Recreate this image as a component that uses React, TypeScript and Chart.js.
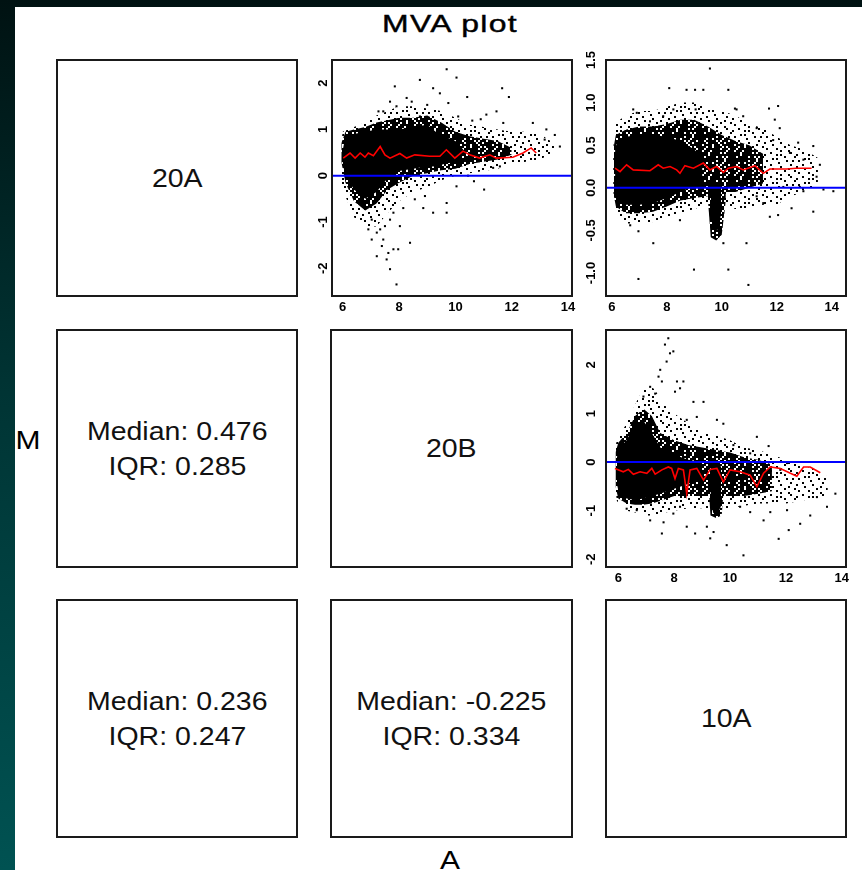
import React, { useEffect, useRef } from 'react';
import { Chart, registerables } from 'chart.js';
Chart.register(...registerables);

// ---------- text panels ----------
const sampleNames = ['20A', '20B', '10A'];
const medians = ['0.476', '0.236', '-0.225'];
const iqrs = ['0.285', '0.247', '0.334'];

// ---------- tick labels ----------
const xTicks = [6, 8, 10, 12, 14];
const yTicks12 = [-2, -1, 0, 1, 2];
const yLabels12 = ['-2', '-1', '0', '1', '2'];
const yTicks13 = [-1, -0.5, 0, 0.5, 1, 1.5];
const yLabels13 = ['-1.0', '-0.5', '0.0', '0.5', '1.0', '1.5'];
const yTicks23 = [-2, -1, 0, 1, 2];
const yLabels23 = ['-2', '-1', '0', '1', '2'];

// ---------- panel 20A vs 20B ----------
const lowess12A = [6.02, 6.26, 6.44, 6.62, 6.79, 6.91, 7.09, 7.33, 7.5, 7.68, 8.03, 8.27, 8.56, 9.09, 9.45, 9.68, 9.98, 10.27, 10.51, 10.86, 11.22, 11.45, 12.04, 12.4, 12.69, 12.87];
const lowess12M = [0.38, 0.49, 0.38, 0.49, 0.4, 0.49, 0.43, 0.63, 0.45, 0.38, 0.48, 0.38, 0.45, 0.42, 0.42, 0.56, 0.38, 0.53, 0.45, 0.38, 0.45, 0.38, 0.4, 0.49, 0.6, 0.49];
const sparseA12 = [5.9, 6.0, 6.4, 6.8, 7.2, 7.6, 8.0, 8.5, 9.0, 9.5, 10.0, 10.5, 11.0, 11.5, 12.0, 12.5, 13.0, 13.5];
const sparseHi12 = [0.5, 0.95, 1.05, 1.15, 1.3, 1.4, 1.5, 1.5, 1.45, 1.4, 1.25, 1.1, 1.05, 1.0, 0.95, 0.95, 0.9, 0.7];
const sparseLo12 = [0.2, -0.3, -0.9, -1.1, -1.1, -0.8, -0.55, -0.35, -0.25, -0.1, 0.0, 0.05, 0.1, 0.15, 0.25, 0.3, 0.35, 0.5];
const denseA12 = [5.95, 6.1, 6.4, 6.8, 7.2, 7.6, 8.0, 8.5, 9.0, 9.5, 10.0, 10.5, 11.0, 11.5, 12.0];
const denseHi12 = [0.7, 0.95, 1.0, 1.05, 1.15, 1.2, 1.25, 1.25, 1.3, 1.15, 0.95, 0.85, 0.8, 0.75, 0.6];
const denseLo12 = [0.3, -0.15, -0.55, -0.75, -0.6, -0.3, -0.15, 0.0, 0.05, 0.12, 0.15, 0.25, 0.3, 0.35, 0.45];
const coreA12 = [6.0, 6.1, 6.4, 6.8, 7.2, 7.6, 8.0, 8.5, 9.0, 9.3, 9.6, 10.0, 10.3];
const coreHi12 = [0.55, 0.85, 0.9, 0.95, 1.0, 1.0, 1.0, 1.05, 1.1, 0.95, 0.85, 0.75, 0.55];
const coreLo12 = [0.25, 0.0, -0.3, -0.5, -0.35, -0.05, 0.1, 0.15, 0.2, 0.2, 0.25, 0.3, 0.45];
const outliers12 = [
  [9.69, 2.3], [10.04, 2.12], [7.85, 1.93], [8.74, 2.07], [9.21, 1.89], [11.66, 1.89], [11.9, 1.7], [10.42, 1.7],
  [9.45, 1.78], [9.75, 1.57], [8.45, 1.6], [8.27, 1.68], [7.91, 1.5], [7.44, 1.39], [12.75, 1.14], [13.23, 1.0],
  [13.53, 0.88], [13.71, 0.63], [13.17, 0.78], [11.46, 1.39], [11.1, 1.32], [10.6, 1.19], [10.9, 1.22], [11.7, 1.14],
  [10.1, 1.28], [9.0, 1.53], [8.74, 1.28], [7.68, 1.6], [7.27, 1.39],
  [7.91, -2.35], [7.68, -2.02], [7.62, -1.67], [7.8, -1.59], [7.97, -1.59], [7.44, -1.38], [7.21, -1.23], [6.91, -1.16],
  [7.33, -1.16], [7.5, -1.09], [7.03, -0.95], [8.03, -1.09], [8.39, -1.45], [7.68, -0.95], [7.8, -0.8], [8.15, -0.7],
  [8.86, -0.7], [9.21, -0.8], [9.69, -0.8], [9.69, -0.59], [8.92, -0.44], [8.56, -0.51], [11.02, -0.3], [10.66, -0.12],
  [10.45, 0.0], [11.34, 0.17], [11.58, 0.2], [10.04, -0.23], [7.21, -1.74], [7.56, -1.81], [7.39, -1.52], [7.03, -1.38],
];

// ---------- panel 20A vs 10A ----------
const lowess13A = [6.12, 6.3, 6.54, 6.78, 7.39, 7.69, 7.87, 8.12, 8.36, 8.48, 8.66, 8.97, 9.33, 9.57, 9.81, 10.06, 10.24, 10.54, 10.78, 11.21, 11.51, 11.75, 12.36, 12.72, 13.27];
const lowess13M = [0.23, 0.19, 0.27, 0.21, 0.2, 0.27, 0.23, 0.25, 0.21, 0.17, 0.26, 0.23, 0.29, 0.21, 0.25, 0.18, 0.23, 0.25, 0.21, 0.26, 0.17, 0.22, 0.22, 0.23, 0.23];
const sparseA13 = [6.05, 6.1, 6.5, 7.0, 7.5, 8.0, 8.5, 9.0, 9.5, 10.0, 10.5, 11.0, 11.5, 12.0, 12.5, 13.0, 13.5];
const sparseHi13 = [0.4, 0.75, 0.85, 0.9, 0.9, 0.95, 1.0, 1.0, 0.95, 0.9, 0.85, 0.75, 0.7, 0.6, 0.5, 0.45, 0.35];
const sparseLo13 = [0.0, -0.35, -0.42, -0.42, -0.4, -0.35, -0.3, -0.25, -0.2, -0.2, -0.25, -0.25, -0.2, -0.2, -0.1, -0.05, 0.05];
const denseA13 = [6.08, 6.15, 6.5, 7.0, 7.5, 8.0, 8.5, 9.0, 9.5, 10.0, 10.5, 11.0, 11.5];
const denseHi13 = [0.5, 0.62, 0.68, 0.72, 0.72, 0.75, 0.8, 0.8, 0.72, 0.62, 0.55, 0.5, 0.4];
const denseLo13 = [-0.1, -0.22, -0.3, -0.3, -0.28, -0.22, -0.15, -0.12, -0.1, -0.05, -0.05, 0.0, 0.05];
const coreA13 = [6.12, 6.2, 6.5, 7.0, 7.5, 8.0, 8.5, 9.0, 9.3];
const coreHi13 = [0.45, 0.55, 0.6, 0.62, 0.62, 0.6, 0.55, 0.45, 0.35];
const coreLo13 = [-0.05, -0.15, -0.2, -0.2, -0.18, -0.12, -0.05, 0.02, 0.05];
const spikeCoreA13 = [9.6, 9.7, 9.85, 9.98];
const spikeCoreHi13 = [0.0, 0.05, 0.05, 0.0];
const spikeCoreLo13 = [-0.3, -0.48, -0.5, -0.3];
const spikeA13 = [9.5, 9.6, 9.8, 10.0, 10.15];
const spikeHi13 = [0.05, 0.1, 0.1, 0.08, 0.02];
const spikeLo13 = [-0.15, -0.58, -0.62, -0.55, -0.15];
const outliers13 = [
  [9.57, 1.4], [8.09, 1.17], [8.72, 1.15], [9.03, 1.15], [9.33, 1.15], [10.24, 1.15], [9.05, 0.92], [10.48, 0.93],
  [11.72, 0.93], [12.05, 0.96], [11.93, 0.8], [12.11, 0.7], [12.78, 0.53], [13.33, 0.49], [13.57, 0.27], [13.45, 0.13],
  [13.7, -0.02], [14.06, -0.04], [13.33, -0.28], [12.54, -0.24], [12.05, -0.32], [11.75, -0.34], [6.97, -0.51],
  [7.51, -0.65], [8.99, -0.96], [10.24, -0.96], [10.97, -1.14], [6.97, -1.07], [10.06, -0.65], [10.9, -0.65],
  [6.67, -0.44], [8.48, -0.38], [6.78, 0.92], [6.91, 0.88], [7.39, 0.78], [8.24, 0.92], [7.87, 0.84], [10.54, 0.92],
  [10.78, 0.84], [11.27, 0.7], [11.87, 0.56], [12.48, 0.41], [12.97, 0.33], [11.27, -0.1], [11.51, -0.18],
  [12.24, 0.01], [12.84, 0.01], [12.97, -0.04],
];

// ---------- panel 20B vs 10A ----------
const lowess23A = [5.88, 6.18, 6.36, 6.54, 6.78, 7.02, 7.2, 7.32, 7.56, 7.79, 7.91, 8.03, 8.15, 8.33, 8.45, 8.57, 8.81, 9.05, 9.29, 9.53, 9.76, 10.0, 10.36, 10.72, 10.96, 11.2, 11.44, 11.8, 12.16, 12.39, 12.63, 12.87, 13.23];
const lowess23M = [-0.13, -0.2, -0.15, -0.25, -0.2, -0.23, -0.13, -0.25, -0.16, -0.1, -0.13, -0.34, -0.13, -0.16, -0.65, -0.16, -0.13, -0.37, -0.15, -0.13, -0.41, -0.16, -0.2, -0.27, -0.51, -0.23, -0.1, -0.13, -0.23, -0.29, -0.1, -0.1, -0.22];
const sparseA23 = [5.85, 5.95, 6.3, 6.7, 7.0, 7.3, 7.6, 8.0, 8.5, 9.0, 9.5, 10.0, 10.5, 11.0, 11.5, 12.0, 12.5, 13.0, 13.5];
const sparseHi23 = [0.2, 0.45, 0.8, 1.3, 1.6, 1.5, 1.2, 1.0, 0.8, 0.6, 0.55, 0.45, 0.3, 0.25, 0.15, 0.05, -0.05, -0.15, -0.3];
const sparseLo23 = [-0.3, -0.8, -1.0, -1.05, -1.1, -1.1, -1.05, -1.0, -0.95, -0.95, -1.0, -0.95, -0.9, -0.85, -0.85, -0.85, -0.8, -0.75, -0.7];
const denseA23 = [5.9, 6.0, 6.3, 6.6, 6.9, 7.2, 7.5, 8.0, 8.5, 9.0, 9.5, 10.0, 10.5, 11.0, 11.5];
const denseHi23 = [0.2, 0.4, 0.6, 0.95, 1.1, 0.95, 0.6, 0.45, 0.35, 0.3, 0.25, 0.2, 0.1, 0.05, -0.05];
const denseLo23 = [-0.5, -0.75, -0.85, -0.88, -0.88, -0.85, -0.8, -0.7, -0.7, -0.7, -0.7, -0.7, -0.7, -0.65, -0.6];
const coreA23 = [5.95, 6.05, 6.3, 6.6, 6.9, 7.2, 7.5, 8.0, 8.5, 9.0];
const coreHi23 = [0.1, 0.3, 0.45, 0.8, 0.85, 0.6, 0.3, 0.15, 0.05, 0.0];
const coreLo23 = [-0.45, -0.7, -0.75, -0.78, -0.75, -0.7, -0.65, -0.55, -0.45, -0.3];
const spikeCoreA23 = [9.3, 9.4, 9.55, 9.68];
const spikeCoreHi23 = [-0.05, 0.0, 0.0, -0.1];
const spikeCoreLo23 = [-0.8, -1.05, -1.08, -0.9];
const spikeA23 = [9.22, 9.3, 9.5, 9.7, 9.78];
const spikeHi23 = [-0.05, 0.0, 0.02, -0.02, -0.1];
const spikeLo23 = [-0.4, -1.1, -1.15, -1.1, -0.5];
const outliers23 = [
  [7.79, 2.55], [7.67, 2.42], [7.85, 2.24], [7.97, 2.28], [7.73, 2.07], [7.5, 1.9], [7.44, 1.76], [7.56, 1.66],
  [8.1, 1.66], [8.33, 1.66], [8.03, 1.45], [8.21, 1.52], [8.69, 1.24], [9.05, 1.24], [9.53, 0.87], [9.76, 0.79],
  [8.81, 0.93], [8.45, 0.87], [10.96, 0.52], [11.38, 0.33], [10.72, 0.18], [10.12, 0.35], [7.14, 1.55], [6.9, 1.35],
  [7.32, 1.41], [12.04, -0.02], [11.8, -0.16], [13.11, -0.72], [13.47, -0.92], [13.77, -0.65], [12.87, -1.1],
  [12.51, -1.27], [12.1, -1.4], [11.74, -1.58], [10.48, -1.92], [9.88, -1.71], [9.41, -1.44], [9.17, -1.33],
  [9.29, -1.57], [8.75, -1.47], [8.45, -1.33], [7.97, -1.06], [7.56, -1.47], [7.14, -1.2], [7.62, -1.24],
  [6.3, -0.96], [6.66, -0.99], [8.21, -0.92], [11.2, -1.2], [11.44, -1.03], [12.04, -0.99], [10.72, -1.03], [10.36, -0.92],
];

// ---------- styles (dot textures) ----------
const DENSE_TILE = [
  '###.#####.##.###', '#.####.###.#####', '###.##.####.#.##', '##.#######.###.#',
  '#.###.##.####.##', '####.#####.#.###', '.###.###.#######', '##.#####.##.#.##',
  '####.#.#####.###', '#.######.###.#.#', '###.##.####.####', '##.#####.#.###.#',
];
const SPARSE_TILE = [
  '#.......#.......', '....#.......#...', '..........#....#', '.#....#.........',
  '........#...#...', '...#.........#..', '#.....#.#.......', '..........#....#',
  '....#.#.........', '.#.........#..#.', '.......#........', '...#.........#..',
];

function makePattern(rows: string[], cell: number): CanvasPattern | string {
  const c = document.createElement('canvas');
  c.width = rows[0].length * cell;
  c.height = rows.length * cell;
  const g = c.getContext('2d');
  if (!g) return '#000';
  g.fillStyle = '#000';
  rows.forEach((r, j) => {
    for (let i = 0; i < r.length; i++) if (r[i] === '#') g.fillRect(i * cell, j * cell, cell, cell);
  });
  return g.createPattern(c, 'repeat') || '#000';
}

const FONT = '"Liberation Sans", Arial, Helvetica, sans-serif';

type Layer = { A: number[]; lo: number[]; hi: number[]; kind: 'core' | 'dense' | 'sparse' };
type PanelDef = {
  box: [number, number, number, number];
  xMin: number; xMax: number; yMin: number; yMax: number;
  yTicks: number[]; yLabels: string[]; yLabelOffset: number;
  lowA: number[]; lowM: number[]; outliers: number[][];
  layers: Layer[];
};

const panels: PanelDef[] = [
  {
    box: [332, 60, 572, 296], xMin: 5.62, xMax: 14.14, yMin: -2.6, yMax: 2.5,
    yTicks: yTicks12, yLabels: yLabels12, yLabelOffset: 9,
    lowA: lowess12A, lowM: lowess12M, outliers: outliers12,
    layers: [
      { A: coreA12, lo: coreLo12, hi: coreHi12, kind: 'core' },
      { A: denseA12, lo: denseLo12, hi: denseHi12, kind: 'dense' },
      { A: sparseA12, lo: sparseLo12, hi: sparseHi12, kind: 'sparse' },
    ],
  },
  {
    box: [606, 60, 846, 296], xMin: 5.79, xMax: 14.52, yMin: -1.27, yMax: 1.5,
    yTicks: yTicks13, yLabels: yLabels13, yLabelOffset: 15,
    lowA: lowess13A, lowM: lowess13M, outliers: outliers13,
    layers: [
      { A: coreA13, lo: coreLo13, hi: coreHi13, kind: 'core' },
      { A: spikeCoreA13, lo: spikeCoreLo13, hi: spikeCoreHi13, kind: 'core' },
      { A: denseA13, lo: denseLo13, hi: denseHi13, kind: 'dense' },
      { A: spikeA13, lo: spikeLo13, hi: spikeHi13, kind: 'dense' },
      { A: sparseA13, lo: sparseLo13, hi: sparseHi13, kind: 'sparse' },
    ],
  },
  {
    box: [606, 330, 846, 567], xMin: 5.56, xMax: 14.15, yMin: -2.16, yMax: 2.72,
    yTicks: yTicks23, yLabels: yLabels23, yLabelOffset: 15,
    lowA: lowess23A, lowM: lowess23M, outliers: outliers23,
    layers: [
      { A: coreA23, lo: coreLo23, hi: coreHi23, kind: 'core' },
      { A: spikeCoreA23, lo: spikeCoreLo23, hi: spikeCoreHi23, kind: 'core' },
      { A: denseA23, lo: denseLo23, hi: denseHi23, kind: 'dense' },
      { A: spikeA23, lo: spikeLo23, hi: spikeHi23, kind: 'dense' },
      { A: sparseA23, lo: sparseLo23, hi: sparseHi23, kind: 'sparse' },
    ],
  },
];

const PAD_L = 34, PAD_T = 14, PAD_R = 14, PAD_B = 26;

function ScatterPanel({ p }: { p: PanelDef }) {
  const ref = useRef<HTMLCanvasElement>(null);
  const [l, t, r, b] = p.box;
  const W = r - l + PAD_L + PAD_R;
  const H = b - t + PAD_T + PAD_B;

  useEffect(() => {
    if (!ref.current) return;
    const dense = makePattern(DENSE_TILE, 2);
    const sparse = makePattern(SPARSE_TILE, 2);
    const datasets: any[] = [
      {
        data: p.lowA.map((a, i) => ({ x: a, y: p.lowM[i] })),
        showLine: true, borderColor: '#ff0000', borderWidth: 1.6, pointRadius: 0, fill: false, order: 0,
      },
      {
        data: p.outliers.map(([a, m]) => ({ x: a, y: m })),
        pointStyle: 'rect', pointRadius: 1.45, backgroundColor: '#000', borderWidth: 0, order: 1,
      },
    ];
    p.layers.forEach((ly) => {
      const order = ly.kind === 'core' ? 2 : ly.kind === 'dense' ? 3 : 4;
      const bg = ly.kind === 'core' ? '#000' : ly.kind === 'dense' ? dense : sparse;
      datasets.push({
        data: ly.A.map((a, i) => ({ x: a, y: ly.lo[i] })),
        showLine: true, pointRadius: 0, borderWidth: 0, borderColor: 'rgba(0,0,0,0)', fill: false, order,
      });
      datasets.push({
        data: ly.A.map((a, i) => ({ x: a, y: ly.hi[i] })),
        showLine: true, pointRadius: 0, borderWidth: 0, borderColor: 'rgba(0,0,0,0)',
        backgroundColor: bg, fill: '-1', order,
      });
    });

    const mvaPlugin = {
      id: 'mvaPanel',
      afterDatasetsDraw(chart: any) {
        const { ctx, chartArea: a, scales } = chart;
        const y0 = scales.y.getPixelForValue(0);
        ctx.save();
        ctx.beginPath();
        ctx.rect(a.left, a.top, a.right - a.left, a.bottom - a.top);
        ctx.clip();
        ctx.strokeStyle = '#0000ff';
        ctx.lineWidth = 2;
        ctx.beginPath();
        ctx.moveTo(a.left, y0);
        ctx.lineTo(a.right, y0);
        ctx.stroke();
        ctx.restore();
      },
      afterDraw(chart: any) {
        const { ctx, chartArea: a, scales } = chart;
        ctx.save();
        ctx.strokeStyle = '#1a1a1a';
        ctx.lineWidth = 2;
        ctx.strokeRect(a.left, a.top, a.right - a.left, a.bottom - a.top);
        ctx.fillStyle = '#000';
        ctx.font = `bold 13px ${FONT}`;
        ctx.textAlign = 'center';
        ctx.textBaseline = 'middle';
        p.yTicks.forEach((v, i) => {
          const py = scales.y.getPixelForValue(v);
          ctx.save();
          ctx.translate(a.left - p.yLabelOffset, py);
          ctx.rotate(-Math.PI / 2);
          ctx.fillText(p.yLabels[i], 0, 0);
          ctx.restore();
        });
        ctx.restore();
      },
    };

    const chart = new Chart(ref.current, {
      type: 'scatter',
      data: { datasets },
      options: {
        animation: false,
        responsive: false,
        devicePixelRatio: 1,
        events: [],
        layout: { padding: { left: 0, top: PAD_T, right: PAD_R, bottom: 0 } },
        plugins: { legend: { display: false }, tooltip: { enabled: false }, title: { display: false } },
        scales: {
          x: {
            type: 'linear', min: p.xMin, max: p.xMax,
            grid: { display: false, drawTicks: false }, border: { display: false },
            afterBuildTicks: (s: any) => { s.ticks = xTicks.map((v) => ({ value: v })); },
            afterFit: (s: any) => { s.height = PAD_B; },
            ticks: {
              autoSkip: false, maxRotation: 0, minRotation: 0, padding: 4, color: '#000',
              font: { family: FONT, size: 13, weight: 'bold' },
              callback: (v: any) => String(v),
            },
          },
          y: {
            type: 'linear', min: p.yMin, max: p.yMax,
            grid: { display: false, drawTicks: false }, border: { display: false },
            afterBuildTicks: (s: any) => { s.ticks = p.yTicks.map((v) => ({ value: v })); },
            afterFit: (s: any) => { s.width = PAD_L; },
            ticks: { display: false },
          },
        },
      } as any,
      plugins: [mvaPlugin],
    });
    return () => chart.destroy();
  }, []);

  return (
    <canvas
      ref={ref}
      width={W}
      height={H}
      style={{ position: 'absolute', left: l - PAD_L, top: t - PAD_T, width: W, height: H }}
    />
  );
}

function TextPanel({ box, lines }: { box: [number, number, number, number]; lines: string[] }) {
  const [l, t, r, b] = box;
  return (
    <div
      style={{
        position: 'absolute', left: l - 1, top: t - 1, width: r - l + 2, height: b - t + 2,
        border: '2px solid #1a1a1a', boxSizing: 'border-box', display: 'flex', flexDirection: 'column',
        alignItems: 'center', justifyContent: 'center', fontFamily: FONT, fontSize: 25, lineHeight: '35px',
        color: '#111',
      }}
    >
      {lines.map((s, i) => (
        <div key={i} style={{ transform: 'scaleX(1.14)', whiteSpace: 'nowrap' }}>{s}</div>
      ))}
    </div>
  );
}

const cols: [number, number][] = [[57, 297], [331, 572], [606, 846]];
const rows: [number, number][] = [[60, 296], [330, 567], [600, 837]];
const bx = (r: number, c: number): [number, number, number, number] => [cols[c][0], rows[r][0], cols[c][1], rows[r][1]];

export default function App() {
  return (
    <div
      style={{
        position: 'absolute', left: 0, top: 0, width: 862, height: 870, overflow: 'hidden',
        background: 'linear-gradient(to bottom, #001212 0%, #003434 45%, #005252 100%)',
      }}
    >
      <div style={{ position: 'absolute', left: 15, top: 7, right: 0, bottom: 0, background: '#fff', overflow: 'hidden' }}>
        <div style={{ position: 'absolute', left: 0, top: 0, width: 847, height: 863, transform: 'translate(-15px,-7px)' }}>
          <div
            style={{
              position: 'absolute', left: 250, top: 12, width: 400, textAlign: 'center',
              font: `24px ${FONT}`, lineHeight: '24px', letterSpacing: 1, transform: 'scaleX(1.33)', color: '#000',
              WebkitTextStroke: '0.4px #000',
            }}
          >
            MVA plot
          </div>
          <div
            style={{
              position: 'absolute', left: 0, top: 428, width: 56, textAlign: 'center',
              font: `25px ${FONT}`, lineHeight: '25px', transform: 'scaleX(1.2)', color: '#000',
            }}
          >
            M
          </div>
          <div
            style={{
              position: 'absolute', left: 400, top: 848, width: 100, textAlign: 'center',
              font: `25px ${FONT}`, lineHeight: '25px', transform: 'scaleX(1.2)', color: '#000',
            }}
          >
            A
          </div>
          <TextPanel box={bx(0, 0)} lines={[sampleNames[0]]} />
          <TextPanel box={bx(1, 1)} lines={[sampleNames[1]]} />
          <TextPanel box={bx(2, 2)} lines={[sampleNames[2]]} />
          <TextPanel box={bx(1, 0)} lines={[`Median: ${medians[0]}`, `IQR: ${iqrs[0]}`]} />
          <TextPanel box={bx(2, 0)} lines={[`Median: ${medians[1]}`, `IQR: ${iqrs[1]}`]} />
          <TextPanel box={bx(2, 1)} lines={[`Median: ${medians[2]}`, `IQR: ${iqrs[2]}`]} />
          {panels.map((p, i) => (
            <ScatterPanel key={i} p={p} />
          ))}
        </div>
      </div>
    </div>
  );
}
